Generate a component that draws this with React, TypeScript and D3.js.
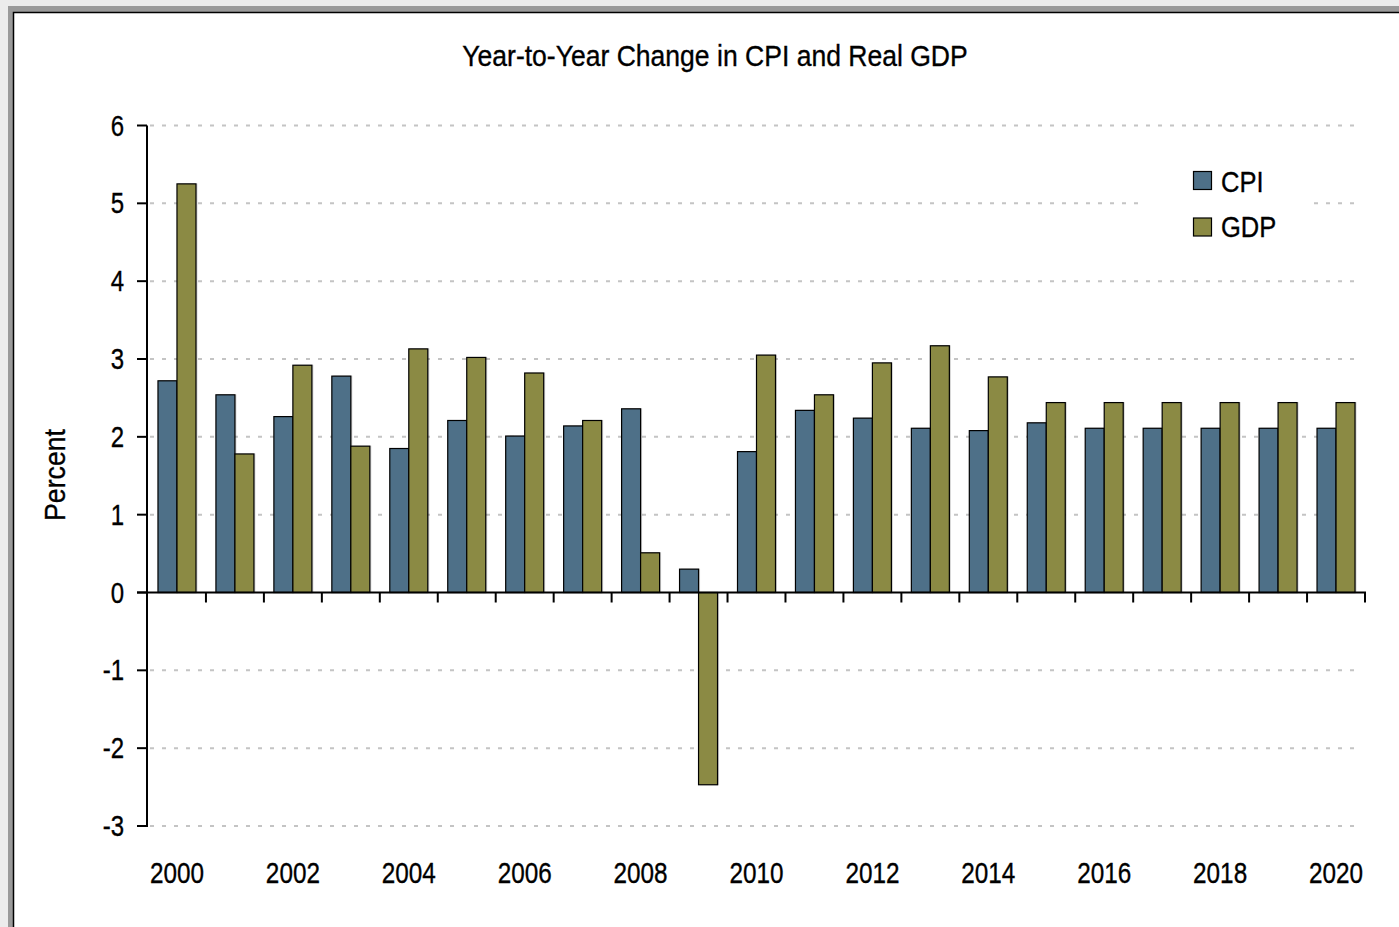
import React from "react";
import * as d3 from "d3";

const years = [2000, 2001, 2002, 2003, 2004, 2005, 2006, 2007, 2008, 2009, 2010, 2011, 2012, 2013, 2014, 2015, 2016, 2017, 2018, 2019, 2020];
const cpi = [2.72, 2.54, 2.26, 2.78, 1.85, 2.21, 2.01, 2.14, 2.36, 0.3, 1.81, 2.34, 2.24, 2.11, 2.08, 2.18, 2.11, 2.11, 2.11, 2.11, 2.11];
const gdp = [5.25, 1.78, 2.92, 1.88, 3.13, 3.02, 2.82, 2.21, 0.51, -2.47, 3.05, 2.54, 2.95, 3.17, 2.77, 2.44, 2.44, 2.44, 2.44, 2.44, 2.44];
const seriesNames = ["CPI", "GDP"];
const seriesColors = ["#4e7088", "#8b8a44"];
const yTicks = [-3, -2, -1, 0, 1, 2, 3, 4, 5, 6];
const xLabelYears = [2000, 2002, 2004, 2006, 2008, 2010, 2012, 2014, 2016, 2018, 2020];
const title = "Year-to-Year Change in CPI and Real GDP";
const yTitle = "Percent";

const FONT = "'Liberation Sans', Arial, sans-serif";

function NText(props: { x: number; y: number; size: number; sx?: number; anchor?: string; rotate?: number; children: React.ReactNode }) {
  const { x, y, size, sx = 0.8, anchor = "start", rotate = 0, children } = props;
  return (
    <g transform={`translate(${x},${y}) rotate(${rotate}) scale(${sx},1)`}>
      <text x={0} y={0} textAnchor={anchor} fontSize={size} fill="#000" stroke="#000" strokeWidth={0.35}>{children}</text>
    </g>
  );
}

export default function App() {
  const W = 1399;
  const H = 927;
  const x0 = d3.scaleBand<number>().domain(years).range([148, 1365]).paddingInner(0).paddingOuter(0);
  const x1 = d3.scaleBand<string>().domain(seriesNames).range([0, x0.bandwidth()]).paddingInner(0).paddingOuter(0.525);
  const y = d3.scaleLinear().domain([-3, 6]).range([826, 125.5]);
  const color = d3.scaleOrdinal<string, string>().domain(seriesNames).range(seriesColors);
  const values: Record<string, number[]> = { CPI: cpi, GDP: gdp };
  const y0 = y(0);
  const boundaries = years.map((yr) => (x0(yr) as number) + x0.bandwidth());

  return (
    <svg width={W} height={H} style={{ position: "absolute", left: 0, top: 0, display: "block" }} fontFamily={FONT}>
      <rect x={0} y={0} width={W} height={H} fill="#ececec" />
      <rect x={8} y={6} width={W + 50} height={H + 50} fill="#9a9a9a" />
      <rect x={13.5} y={12.5} width={W + 50} height={H + 50} fill="#ffffff" stroke="#000" strokeWidth={1.5} />

      <NText x={715} y={66} size={30} sx={0.885} anchor="middle">{title}</NText>

      {/* gridlines */}
      {yTicks.filter((t) => t !== 0).map((t) => (
        <line key={"g" + t} x1={150} x2={1362} y1={y(t)} y2={y(t)} stroke="#c4c4c4" strokeWidth={2} strokeDasharray="4 8" />
      ))}

      {/* legend background */}
      <rect x={1146} y={142} width={160} height={106} fill="#fff" />

      {/* bars */}
      {years.map((yr, i) => (
        <g key={yr} transform={`translate(${x0(yr)},0)`}>
          {seriesNames.map((s) => {
            const v = values[s][i];
            const top = Math.min(y(v), y0);
            const h = Math.abs(y(v) - y0);
            const bx = x1(s) as number;
            return (
              <g key={s}>
                <rect x={bx + 1.5} y={top - 0.5} width={x1.bandwidth()} height={h + 1} fill="#000" opacity={0.18} />
                <rect x={bx} y={top} width={x1.bandwidth()} height={h} fill={color(s)} stroke="#000" strokeWidth={1.2} />
              </g>
            );
          })}
        </g>
      ))}

      {/* y axis */}
      <line x1={147} x2={147} y1={y(6)} y2={y(-3) + 1} stroke="#000" strokeWidth={2} />
      {yTicks.map((t) => (
        <g key={"yt" + t}>
          <line x1={137} x2={147} y1={y(t)} y2={y(t)} stroke="#000" strokeWidth={2} />
          <NText x={124} y={y(t) + 10} size={30} anchor="end">{t}</NText>
        </g>
      ))}

      {/* zero axis */}
      <line x1={137} x2={1366} y1={y0} y2={y0} stroke="#000" strokeWidth={2} />
      {boundaries.map((bx, i) => (
        <line key={"xt" + i} x1={bx} x2={bx} y1={y0} y2={y0 + 10} stroke="#000" strokeWidth={2} />
      ))}

      {xLabelYears.map((yr) => (
        <NText key={"xl" + yr} x={(x0(yr) as number) + x0.bandwidth() / 2} y={883} size={30} sx={0.81} anchor="middle">{yr}</NText>
      ))}

      <NText x={65} y={475} size={29} sx={0.92} anchor="middle" rotate={-90}>{yTitle}</NText>

      {/* legend */}
      {seriesNames.map((s, i) => (
        <g key={"lg" + s}>
          <rect x={1193.5} y={171.5 + i * 46.5} width={18} height={18} fill={color(s)} stroke="#000" strokeWidth={1.2} />
          <NText x={1221} y={191.5 + i * 45} size={30} sx={0.85}>{s}</NText>
        </g>
      ))}
    </svg>
  );
}
